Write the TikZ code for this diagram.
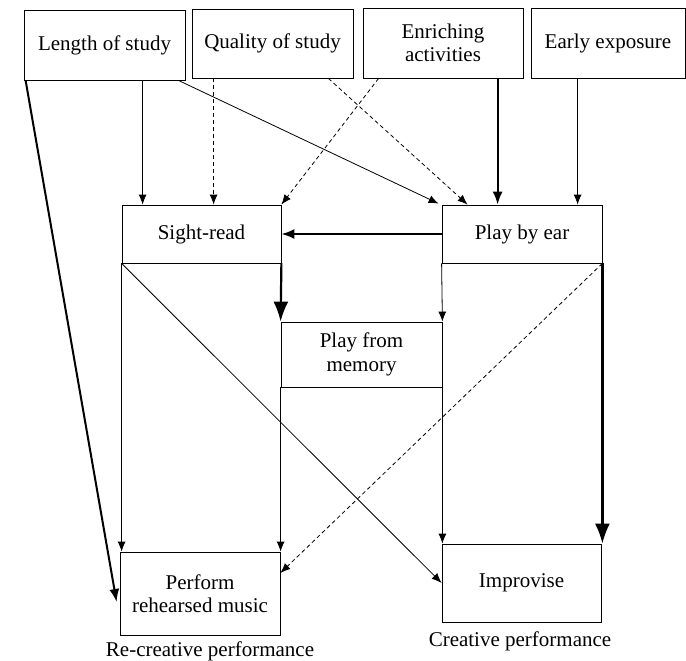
\documentclass[tikz,border=0pt]{standalone}
\usepackage{fontspec}
\setmainfont{Liberation Serif}
\usetikzlibrary{arrows.meta,calc}
\begin{document}
\begin{tikzpicture}[x=1pt,y=-1pt,
  box/.style={draw,line width=0.8pt,inner sep=0pt,align=center,font=\fontsize{21}{23.5}\selectfont},
  lab/.style={inner sep=0pt,font=\fontsize{21}{23.5}\selectfont},
  athin/.style={line width=0.8pt,-{Latex[length=10pt,width=8pt]}},
  adash/.style={line width=0.8pt,dash pattern=on 4pt off 3pt,-{Latex[length=10pt,width=8pt]}},
  athick/.style={line width=2pt,-{Latex[length=13pt,width=10pt]}},
  abig/.style={line width=2.2pt,-{Latex[length=20pt,width=15pt]}}]
\useasboundingbox (0,0) rectangle (686,661);

% top row
\node[box,minimum width=161pt,minimum height=70pt] (len) at (104.5,45) {Length of study};
\node[box,minimum width=161pt,minimum height=69pt] (qual) at (272.5,43.5) {Quality of study};
\node[box,minimum width=160pt,minimum height=70pt] (enr) at (443,43) {Enriching\\activities};
\node[box,minimum width=154pt,minimum height=70pt] (early) at (608,43) {Early exposure};

% middle row
\node[box,minimum width=159pt,minimum height=58pt] (sight) at (201.5,234) {Sight-read};
\node[box,minimum width=160pt,minimum height=58pt] (ear) at (522,234) {Play by ear};
\node[box,minimum width=161pt,minimum height=65pt] (mem) at (361.5,354.5) {Play from\\memory};

% bottom row
\node[box,minimum width=160pt,minimum height=83pt] (perf) at (200,593.5) {Perform\\rehearsed music};
\node[box,minimum width=159pt,minimum height=78pt] (impr) at (521.5,583) {Improvise};

\node[lab] (rc) at (210,651) {Re-creative performance};
\node[lab] (cp) at (520,641) {Creative performance};

% helper coordinates
\coordinate (sA) at ($(sight.north west)+(21,0)$);
\coordinate (sB) at ($(sight.north west)+(92,0)$);
\coordinate (eA) at ($(ear.north west)+(26,0)$);
\coordinate (eB) at ($(ear.north west)+(56,0)$);
\coordinate (eC) at ($(ear.north west)+(136,0)$);

% connectors from top row
\draw[athick] ($(len.south west)+(2,0)$) -- ($(perf.west)+(-3,8.5)$);
\draw[athin] (sA |- len.south) -- (sA);
\draw[athin] ($(len.south east)+(-7,0)$) -- ($(ear.north west)+(-3,-1)$);
\draw[adash] (sB |- qual.south) -- (sB);
\draw[adash] ($(qual.south east)+(-25,0)$) -- (eA);
\draw[adash] ($(enr.south west)+(16,0)$) -- (sight.north east);
\draw[athick] (eB |- enr.south) -- (eB);
\draw[athin] (eC |- early.south) -- (eC);

% middle connectors
\draw[athick] (ear.west) -- (sight.east);
\draw[abig] (sight.south east) -- (mem.north west);
\draw[athin] (ear.south west) -- (mem.north east);

% to bottom row
\draw[athin] (sight.south west) -- (sight.south west |- perf.north);
\draw[athin] (mem.south west) -- (mem.south west |- perf.north);
\draw[athin] (mem.south east) -- (mem.south east |- impr.north);
\draw[abig] (ear.south east) -- (ear.south east |- impr.north);
\draw[adash] (ear.south east) -- ($(perf.east)+(0,-20.5)$);
\draw[athin] (sight.south west) -- (impr.west);
\end{tikzpicture}
\end{document}
